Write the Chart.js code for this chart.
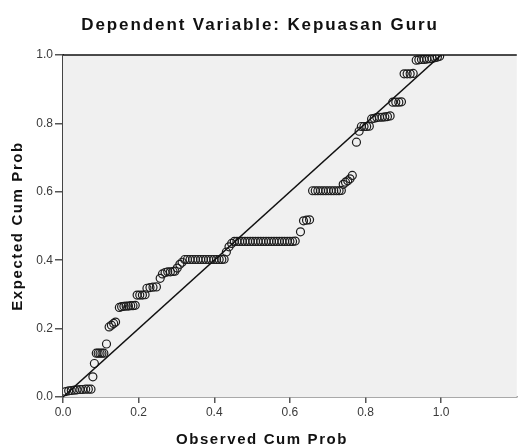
<!DOCTYPE html>
<html>
<head>
<meta charset="utf-8">
<script src="https://cdn.jsdelivr.net/npm/chart.js@4.4.1/dist/chart.umd.min.js"></script>
<style>
  html, body { margin: 0; padding: 0; background: #ffffff; }
  #ppChart { display: block; }
</style>
</head>
<body>
<canvas id="ppChart" width="522" height="447"></canvas>
<script>
// P-P plot of regression standardized residual
const chartTitle = "Dependent Variable: Kepuasan Guru";
const xTitle = "Observed Cum Prob";
const yTitle = "Expected Cum Prob";

const xTickValues = [0.0, 0.2, 0.4, 0.6, 0.8, 1.0];
const yTickValues = [0.0, 0.2, 0.4, 0.6, 0.8, 1.0];

const observedProb = [
  0.007, 0.015, 0.022, 0.030, 0.037, 0.045, 0.052, 0.060, 0.067, 0.074,
  0.079, 0.083,
  0.088, 0.093, 0.098, 0.103, 0.108,
  0.115,
  0.122, 0.128, 0.134, 0.139,
  0.149, 0.155, 0.161, 0.167, 0.173, 0.179, 0.185, 0.191,
  0.196, 0.203, 0.210, 0.217,
  0.222, 0.230, 0.238, 0.247,
  0.257,
  0.263, 0.270, 0.277, 0.284, 0.291, 0.296,
  0.302, 0.309, 0.315,
  0.322, 0.329, 0.336, 0.343, 0.350, 0.357, 0.364, 0.371, 0.378, 0.385, 0.392, 0.399, 0.406, 0.413, 0.420, 0.426,
  0.432, 0.439, 0.446,
  0.453, 0.460, 0.467, 0.474, 0.481, 0.488, 0.495, 0.502, 0.509, 0.516, 0.523, 0.530,
  0.537, 0.544, 0.551, 0.558, 0.565, 0.572, 0.579, 0.586, 0.593, 0.600, 0.607, 0.614,
  0.628,
  0.636, 0.644, 0.652,
  0.660, 0.667, 0.674, 0.681, 0.688, 0.695, 0.702, 0.709, 0.716, 0.723, 0.730, 0.736,
  0.741, 0.747, 0.753, 0.759, 0.765,
  0.776, 0.783,
  0.789, 0.796, 0.803, 0.810,
  0.816, 0.823, 0.830, 0.837, 0.844, 0.851, 0.858, 0.865,
  0.872, 0.880, 0.888, 0.895,
  0.902, 0.910, 0.918, 0.926,
  0.934, 0.941, 0.948, 0.955, 0.962, 0.969, 0.976, 0.983, 0.990, 0.996
];

const expectedProb = [
  0.016, 0.018, 0.019, 0.020, 0.021, 0.022, 0.022, 0.023, 0.023, 0.023,
  0.059, 0.098,
  0.128, 0.128, 0.128, 0.128, 0.128,
  0.155,
  0.205, 0.210, 0.215, 0.219,
  0.262, 0.264, 0.265, 0.266, 0.266, 0.267, 0.267, 0.268,
  0.298, 0.298, 0.298, 0.299,
  0.318, 0.320, 0.321, 0.322,
  0.347,
  0.360, 0.364, 0.366, 0.366, 0.367, 0.368,
  0.377, 0.388, 0.394,
  0.402, 0.402, 0.402, 0.402, 0.402, 0.402, 0.402, 0.402, 0.402, 0.402, 0.402, 0.402, 0.402, 0.402, 0.402, 0.403,
  0.424, 0.439, 0.449,
  0.455, 0.455, 0.455, 0.455, 0.455, 0.455, 0.455, 0.455, 0.455, 0.455, 0.455, 0.455,
  0.455, 0.455, 0.455, 0.455, 0.455, 0.455, 0.455, 0.455, 0.455, 0.455, 0.455, 0.456,
  0.483,
  0.515, 0.517, 0.518,
  0.603, 0.603, 0.603, 0.603, 0.603, 0.603, 0.603, 0.603, 0.603, 0.603, 0.603, 0.604,
  0.622, 0.628, 0.632, 0.638, 0.648,
  0.745, 0.777,
  0.791, 0.791, 0.791, 0.792,
  0.813, 0.815, 0.817, 0.818, 0.818, 0.819, 0.820, 0.822,
  0.862, 0.862, 0.862, 0.863,
  0.945, 0.945, 0.945, 0.946,
  0.985, 0.986, 0.987, 0.987, 0.988, 0.989, 0.990, 0.992, 0.994, 0.996
];

// reference line y = x
const refLineX = [0, 1];
const refLineY = [0, 1];

const points = observedProb.map((x, i) => ({ x, y: expectedProb[i] }));
const refLine = refLineX.map((x, i) => ({ x, y: refLineY[i] }));

// latar abu-abu area plot + garis tepi atas
const plotFrame = {
  id: "plotFrame",
  beforeDatasetsDraw(chart) {
    const { ctx, chartArea: { left, right, top, bottom } } = chart;
    ctx.save();
    ctx.fillStyle = "#f0f0f0";
    ctx.fillRect(left, top, right - left, bottom - top);
    ctx.restore();
  },
  afterDraw(chart) {
    const { ctx, chartArea: { left, right, top } } = chart;
    ctx.save();
    ctx.strokeStyle = "#111";
    ctx.lineWidth = 1.5;
    ctx.beginPath();
    ctx.moveTo(left, top);
    ctx.lineTo(right, top);
    ctx.stroke();
    ctx.restore();
  },
};

// judul dan judul sumbu (SPSS memberi jarak huruf agak lebar)
const titles = {
  id: "titles",
  afterDraw(chart) {
    const { ctx, width, chartArea: { top, bottom } } = chart;
    ctx.save();
    ctx.fillStyle = "#111";
    ctx.textAlign = "center";
    ctx.textBaseline = "middle";

    ctx.font = "bold 17px 'Liberation Sans', Arial, sans-serif";
    ctx.letterSpacing = "1.9px";
    ctx.fillText(chartTitle, width / 2 - 1, 25);

    ctx.font = "bold 15px 'Liberation Sans', Arial, sans-serif";
    ctx.letterSpacing = "1.6px";
    ctx.fillText(xTitle, width / 2 + 1, 440);

    ctx.translate(18, (top + bottom) / 2);
    ctx.rotate(-Math.PI / 2);
    ctx.fillText(yTitle, 0, 0);
    ctx.restore();
  },
};

new Chart(document.getElementById("ppChart"), {
  type: "scatter",
  data: {
    datasets: [
      {
        label: "ref",
        type: "line",
        data: refLine,
        borderColor: "#111",
        borderWidth: 1.5,
        pointRadius: 0,
        fill: false,
      },
      {
        label: "residual",
        data: points,
        pointStyle: "circle",
        pointRadius: 4,
        borderWidth: 1.2,
        borderColor: "#1c1c1c",
        backgroundColor: "rgba(0,0,0,0)",
      },
    ],
  },
  options: {
    responsive: false,
    animation: false,
    devicePixelRatio: 1,
    layout: { padding: { top: 55, right: 0, left: 0, bottom: 0 } },
    plugins: {
      legend: { display: false },
      tooltip: { enabled: false },
      title: { display: false },
    },
    scales: {
      x: {
        type: "linear",
        min: 0,
        max: 1.2,
        afterBuildTicks: (scale) => { scale.ticks = xTickValues.map((v) => ({ value: v })); },
        afterFit: (scale) => { scale.height = 50; },
        ticks: {
          callback: (v) => Number(v).toFixed(1),
          color: "#3a3a3a",
          font: { family: "'Liberation Sans', Arial, sans-serif", size: 12 },
          padding: 2,
          maxRotation: 0,
        },
        grid: { drawOnChartArea: false, drawTicks: true, tickLength: 6, color: "#555", lineWidth: 1.5 },
        border: { display: true, color: "#555", width: 1.5 },
      },
      y: {
        type: "linear",
        min: 0,
        max: 1,
        afterBuildTicks: (scale) => { scale.ticks = yTickValues.map((v) => ({ value: v })); },
        afterFit: (scale) => { scale.width = 63; },
        ticks: {
          callback: (v) => Number(v).toFixed(1),
          color: "#3a3a3a",
          font: { family: "'Liberation Sans', Arial, sans-serif", size: 12 },
          padding: 2,
        },
        grid: { drawOnChartArea: false, drawTicks: true, tickLength: 8, color: "#555", lineWidth: 1.5 },
        border: { display: true, color: "#444", width: 2 },
      },
    },
  },
  plugins: [plotFrame, titles],
});
</script>
</body>
</html>
